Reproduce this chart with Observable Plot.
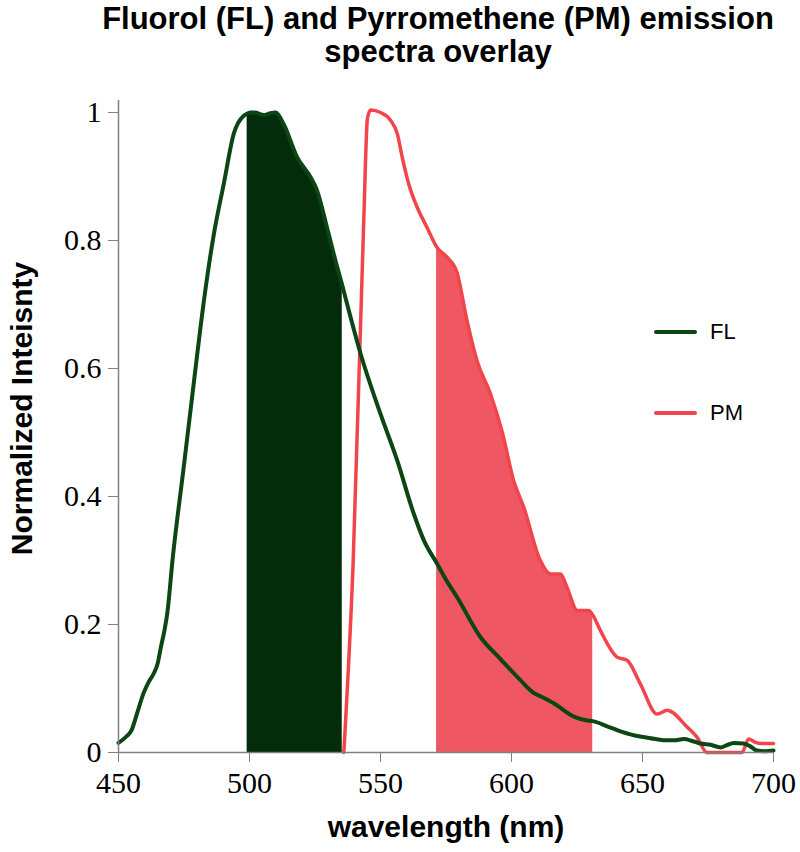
<!DOCTYPE html>
<html>
<head>
<meta charset="utf-8">
<script src="https://cdn.jsdelivr.net/npm/d3@7"></script>
<script src="https://cdn.jsdelivr.net/npm/@observablehq/plot@0.6"></script>
<style>
  body { margin: 0; background: white; }
  #wrap { position: relative; width: 800px; height: 852px; background: white; }
  #title { width: 724px; padding-left: 76px; padding-top: 2px; height: 70px; text-align: center; white-space: nowrap;
    font-family: "Liberation Sans", Arial, sans-serif; font-weight: bold; font-size: 31px; line-height: 33px; color: #000; }
  #legend { position: absolute; left: 654px; top: 318px; font-family: "Liberation Sans", Arial, sans-serif; font-size: 22px; color: #000; }
  .item { display: flex; align-items: center; height: 28px; }
  .key { display: inline-block; width: 43px; height: 4px; border-radius: 2px; margin-right: 13px; }
</style>
</head>
<body>
<div id="wrap">
  <div id="title">Fluorol (FL) and Pyrromethene (PM) emission<br>spectra overlay</div>
  <div id="chart"></div>
  <div id="legend"></div>
</div>
<script>
// ---- data ----
const flWavelength = [450,453,455,457,459.5,461.5,463.4,465,466.2,467.5,468.7,470.6,474.9,478.7,482.6,486.4,490.2,494,497.8,499.1,500.4,502,505.5,508,510,513,518.2,523.3,525.8,529.6,533.5,535.4,537.3,542.4,550,556.4,562.7,566.6,571.6,575,579.2,588.2,595.8,603.4,608.5,611,616.1,623.8,628.9,631,636.5,640.3,646.7,649.2,655,659.4,662,665.8,669,672.1,676,679.8,682,684.8,688.6,691,693.7,697,700];
const flIntensity = [0.015,0.025,0.035,0.06,0.092,0.11,0.123,0.14,0.165,0.19,0.22,0.30,0.446,0.576,0.706,0.81,0.889,0.967,0.995,0.998,1.0,1.0,0.996,0.999,1.0,0.982,0.93,0.899,0.878,0.82,0.758,0.73,0.70,0.623,0.529,0.456,0.373,0.331,0.295,0.27,0.243,0.18,0.146,0.113,0.093,0.088,0.077,0.056,0.05,0.049,0.041,0.035,0.027,0.025,0.021,0.019,0.019,0.021,0.018,0.014,0.012,0.008,0.011,0.015,0.014,0.01,0.003,0.002,0.003];

const pmWavelength = [536,539.5,543.6,545,546.2,550,553.8,556.4,558.3,560.8,564,567.8,571.4,575.4,579.2,583,586.8,592,596.5,600.8,604.7,611,614.9,618.7,621.2,625.1,629.5,631,634,640.3,644.1,649.2,655.6,659.4,667,670.8,674.6,688,690.5,693,695,700];
const pmIntensity = [0,0.29,0.83,0.99,1.004,1.0,0.988,0.967,0.93,0.888,0.852,0.82,0.79,0.774,0.75,0.675,0.6125,0.56,0.5,0.425,0.383,0.3,0.279,0.279,0.258,0.222,0.222,0.215,0.19,0.149,0.144,0.107,0.06,0.066,0.04,0.024,0,0,0.021,0.016,0.014,0.014];

const flBand = [499.1, 535.4];
const pmBand = [571.4, 631];

const xTicks = [450, 500, 550, 600, 650, 700];
const yTicks = [0, 0.2, 0.4, 0.6, 0.8, 1];
const seriesNames = ["FL", "PM"];
const seriesColors = ["#0b4614", "#f2454b"];
const fillColors = ["#032c0b", "#ef5862"];
const xLabel = "wavelength (nm)";
const yLabel = "Normalized Inteisnty";

// ---- build tables ----
const fl = flWavelength.map((x, i) => ({x, y: flIntensity[i]}));
const pm = pmWavelength.map((x, i) => ({x, y: pmIntensity[i]}));
const flFill = fl.filter(d => d.x >= flBand[0] && d.x <= flBand[1]);
const pmFill = pm.filter(d => d.x >= pmBand[0] && d.x <= pmBand[1]);

const chart = Plot.plot({
  width: 800,
  height: 780,
  marginLeft: 118,
  marginRight: 27,
  marginTop: 28,
  marginBottom: 100,
  style: {background: "white", overflow: "visible"},
  x: {domain: [450, 700]},
  y: {domain: [0, 1.01875]},
  marks: [
    Plot.areaY(flFill, {x: "x", y: "y", fill: fillColors[0], curve: "monotone-x"}),
    Plot.areaY(pmFill, {x: "x", y: "y", fill: fillColors[1], curve: "monotone-x"}),
    Plot.line(pm, {x: "x", y: "y", stroke: seriesColors[1], strokeWidth: 3.5, curve: "monotone-x"}),
    Plot.line(fl, {x: "x", y: "y", stroke: seriesColors[0], strokeWidth: 4, curve: "monotone-x"}),
    Plot.ruleX([450], {stroke: "#808080", strokeWidth: 1.5}),
    Plot.ruleY([0], {stroke: "#808080", strokeWidth: 1.5}),
    Plot.axisX({ticks: xTicks, tickSize: 10, tickPadding: 9, stroke: "#808080", fill: "black",
      fontSize: 30, fontFamily: "Liberation Serif", tickFormat: d => String(d), label: null}),
    Plot.axisY({ticks: yTicks, tickSize: 10, tickPadding: 7, stroke: "#808080", fill: "black",
      fontSize: 30, fontFamily: "Liberation Serif", tickFormat: d => String(d), label: null}),
    Plot.text([yLabel], {text: d => d, frameAnchor: "left", textAnchor: "middle", rotate: -90, dx: -96, dy: -18,
      fontSize: 30, fontWeight: "bold", fontFamily: "Liberation Sans", fill: "black"}),
    Plot.text([xLabel], {text: d => d, frameAnchor: "bottom", dy: 84,
      fontSize: 30, fontWeight: "bold", fontFamily: "Liberation Sans", fill: "black"})
  ]
});
document.getElementById("chart").appendChild(chart);

// legend
const legend = document.getElementById("legend");
seriesNames.forEach((name, i) => {
  const item = document.createElement("div");
  item.className = "item";
  item.style.marginBottom = i === 0 ? "53px" : "0";
  const key = document.createElement("span");
  key.className = "key";
  key.style.background = seriesColors[i];
  const label = document.createElement("span");
  label.textContent = name;
  item.appendChild(key);
  item.appendChild(label);
  legend.appendChild(item);
});
</script>
</body>
</html>
